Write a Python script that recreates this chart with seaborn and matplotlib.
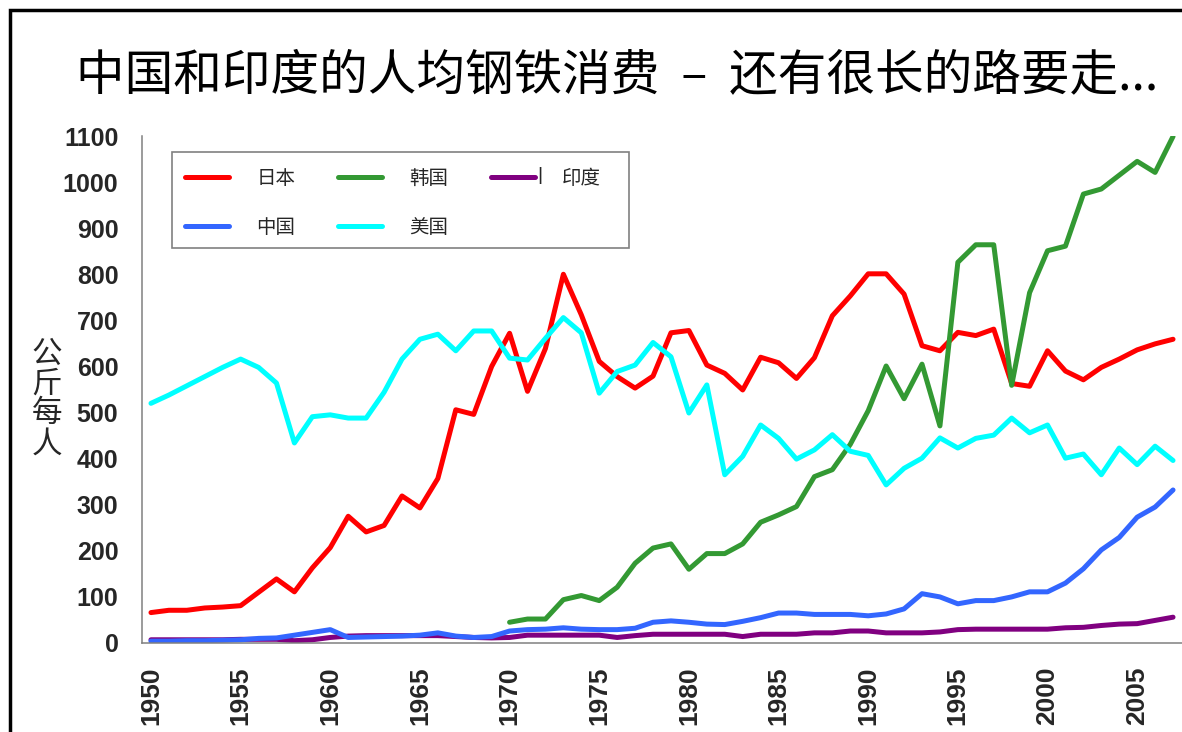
import matplotlib
matplotlib.use("Agg")
import matplotlib.pyplot as plt
from matplotlib.patches import Rectangle
from matplotlib.lines import Line2D
import numpy as np
import pandas as pd
import seaborn as sns

# data (kg per person, 1950-2007)
years = list(range(1950, 2008))

japan = [66, 71, 71, 76, 78, 81, 110, 139, 111, 163,
         207, 275, 241, 255, 319, 293, 357, 506, 496, 600,
         672, 546, 639, 800, 712, 611, 578, 553, 579, 673,
         678, 603, 585, 549, 620, 608, 574, 619, 710, 753,
         801, 801, 757, 645, 634, 674, 667, 681, 563, 557,
         634, 590, 571, 598, 616, 636, 649, 659]

korea = [np.nan] * 20 + [45, 52, 52, 94, 103, 92, 121, 173, 206, 215,
                         160, 194, 194, 215, 262, 278, 296, 361, 376, 431,
                         504, 601, 530, 605, 471, 826, 864, 864, 559, 760,
                         851, 861, 974, 985, 1015, 1045, 1021, 1099]

india = [7, 7, 7, 7, 7, 8, 8, 8, 5, 7,
         12, 15, 16, 16, 16, 16, 16, 14, 12, 11,
         12, 17, 17, 17, 17, 17, 12, 16, 19, 19,
         19, 19, 19, 14, 19, 19, 19, 22, 22, 26,
         26, 22, 22, 22, 24, 29, 30, 30, 30, 30,
         30, 33, 34, 38, 41, 42, 49, 56]

china = [4, 4, 5, 5, 6, 7, 10, 11, 17, 23,
         29, 12, 13, 14, 15, 17, 22, 15, 12, 14,
         26, 29, 30, 33, 30, 29, 29, 32, 45, 48,
         45, 41, 40, 47, 55, 65, 65, 62, 62, 62,
         59, 63, 74, 107, 100, 85, 92, 92, 100, 111,
         111, 130, 161, 202, 229, 273, 295, 332]

usa = [520, 538, 558, 578, 598, 616, 598, 564, 434, 491,
       495, 488, 488, 544, 616, 659, 670, 634, 677, 677,
       618, 614, 661, 706, 673, 542, 589, 603, 652, 621,
       499, 560, 365, 405, 473, 444, 399, 419, 452, 416,
       407, 343, 379, 401, 445, 423, 444, 451, 488, 456,
       473, 401, 410, 365, 423, 387, 427, 396]

countries = ["日本", "韩国", "印度", "中国", "美国"]
colors = {"日本": "#FF0000", "韩国": "#339933", "印度": "#800080",
          "中国": "#3366FF", "美国": "#00FFFF"}

df = pd.DataFrame({"year": years, "日本": japan, "韩国": korea,
                   "印度": india, "中国": china, "美国": usa})
df_long = df.melt(id_vars="year", var_name="country", value_name="kg").dropna()

sns.set_style("white")
cjk = ["Noto Sans CJK SC", "DejaVu Sans"]
plt.rcParams["font.family"] = ["Liberation Sans", "Noto Sans CJK SC", "DejaVu Sans"]

W, H = 1182, 732
fig = plt.figure(figsize=(W / 100, H / 100), dpi=100)
ax = fig.add_axes([142 / W, (H - 643) / H, (W - 142) / W, (643 - 136) / H])

sns.lineplot(data=df_long, x="year", y="kg", hue="country", hue_order=countries,
             palette=colors, linewidth=3.6, estimator=None, errorbar=None,
             legend=False, ax=ax)
for ln in ax.lines:
    ln.set_solid_capstyle("round")
    ln.set_solid_joinstyle("round")

ax.set_xlim(1949.5, 2007.5)
ax.set_ylim(0, 1100)
ax.set_xlabel("")
ax.set_ylabel("")

for s in ["top", "right"]:
    ax.spines[s].set_visible(False)
for s in ["left", "bottom"]:
    ax.spines[s].set_color("#808080")
    ax.spines[s].set_linewidth(1.1)

ax.set_yticks(range(0, 1101, 100))
ax.set_yticklabels([str(v) for v in range(0, 1101, 100)],
                   fontsize=18, fontweight="bold")
ax.tick_params(axis="y", length=6.5, width=1, color="#808080", pad=10.5)

ax.set_xticks(range(1950, 2006, 5))
ax.set_xticklabels([str(y) for y in range(1950, 2006, 5)],
                   rotation=90, fontsize=19, fontweight="bold")
ax.tick_params(axis="x", which="major", length=0, pad=17)
ax.set_xticks(np.arange(1949.5, 2007, 5), minor=True)
ax.tick_params(axis="x", which="minor", length=6, width=1, color="#808080",
               direction="out")

# legend (row-wise order like the original)
order = ["日本", "中国", "韩国", "美国", "印度"]
leg_lines = [Line2D([], [], color=colors[c], linewidth=3.6, solid_capstyle="round")
             for c in order]
fig.add_artist(Rectangle((172 / W, 1 - 248 / H), 457 / W, 96 / H,
                         transform=fig.transFigure, facecolor="white",
                         edgecolor="#808080", linewidth=1.2, zorder=4))
leg = fig.legend(leg_lines, order, loc="upper left",
                 bbox_to_anchor=(185 / W, 1 - 168 / H), ncol=3,
                 frameon=False, borderpad=0, borderaxespad=0,
                 handlelength=2.27, handletextpad=1.39, columnspacing=2.2,
                 labelspacing=1.42, prop={"family": cjk, "size": 14})
leg.set_zorder(5)
fig.text(540 / W, 1 - 176 / H, "|", fontsize=14, ha="center", va="center",
         zorder=6)

# title and vertical axis label
fig.text(617 / W, 1 - 75 / H, "中国和印度的人均钢铁消费  –  还有很长的路要走...",
         fontsize=35, ha="center", va="center", family=cjk, color="black")
fig.text(47 / W, 1 - 399 / H, "公\n斤\n每\n人", fontsize=22, ha="center",
         va="center", linespacing=0.95, family=cjk)

# frame around the slide (right and bottom fall outside the canvas)
fig.add_artist(Rectangle((10 / W, -0.1), 1.2, 1.1 - 10 / H,
                         transform=fig.transFigure, fill=False,
                         edgecolor="black", linewidth=2.5))

fig.savefig("out.png", dpi=100)
